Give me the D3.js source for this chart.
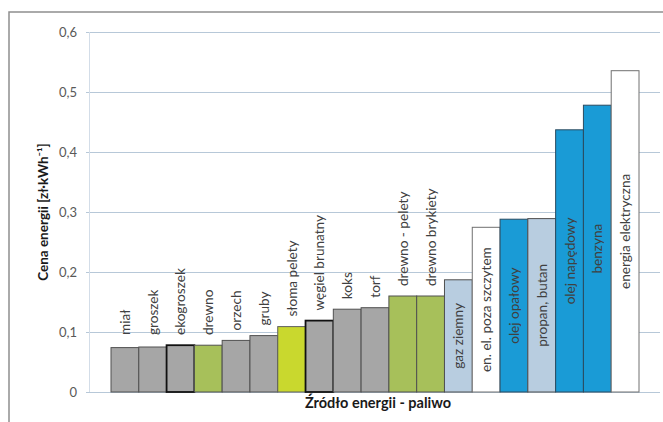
<!DOCTYPE html>
<html>
<head>
<meta charset="utf-8">
<script src="https://d3js.org/d3.v7.min.js"></script>
<style>
  body { margin: 0; background: #fff; }
  svg text { font-family: Lato, "Open Sans", sans-serif; }
</style>
</head>
<body>
<script>
// data
var categories = ["miał", "groszek", "ekogroszek", "drewno", "orzech", "gruby", "słoma pelety",
  "węgiel brunatny", "koks", "torf", "drewno - pelety", "drewno brykiety", "gaz ziemny",
  "en. el. poza szczytem", "olej opałowy", "propan, butan", "olej napędowy", "benzyna", "energia elektryczna"];
var prices = [0.074, 0.075, 0.078, 0.078, 0.086, 0.094, 0.109, 0.119, 0.138, 0.1405, 0.160, 0.160,
  0.187, 0.2745, 0.288, 0.289, 0.437, 0.478, 0.5355];
var groups = ["wegiel", "wegiel", "wegielB", "drewno", "wegiel", "wegiel", "sloma", "wegielB", "wegiel",
  "wegiel", "drewno", "drewno", "gaz", "prad", "olej", "gaz", "olej", "olej", "prad"];
var yTicks = [0, 0.1, 0.2, 0.3, 0.4, 0.5, 0.6];
var yTitle = "Cena  energii  [zł·kWh⁻¹]";
var xTitle = "Źródło energii - paliwo";

var fills = { wegiel: "#a6a6a6", wegielB: "#a6a6a6", drewno: "#a7c05a", sloma: "#c9d82e",
  gaz: "#b8cde0", prad: "#ffffff", olej: "#1a9bd6" };
var strokes = { wegiel: "#505050", wegielB: "#111111", drewno: "#505050", sloma: "#606060",
  gaz: "#505050", prad: "#707070", olej: "#2b4b60" };

var W = 663, H = 422;
var svg = d3.select("body").append("svg").attr("width", W).attr("height", H);

// outer frame
svg.append("rect").attr("x", 9).attr("y", 12).attr("width", 700).attr("height", 500)
  .attr("fill", "#fff").attr("stroke", "#8e8e8e").attr("stroke-width", 1.5);

var x = d3.scaleBand().domain(categories).range([111, 639]).padding(0);
var y = d3.scaleLinear().domain([0, 0.6]).range([392, 32]);

// gridlines + tick labels
var fmt = function(v) { return v === 0 ? "0" : d3.format(".1f")(v).replace(".", ","); };
svg.append("g").selectAll("line").data(yTicks).enter().append("line")
  .attr("x1", 86).attr("x2", 660)
  .attr("y1", function(d) { return y(d) + 0.5; }).attr("y2", function(d) { return y(d) + 0.5; })
  .attr("stroke", "#b7c8d8").attr("stroke-width", 1);
svg.append("line").attr("x1", 89.5).attr("x2", 89.5).attr("y1", y(0.6)).attr("y2", y(0))
  .attr("stroke", "#d3dde8");
svg.append("g").selectAll("text").data(yTicks).enter().append("text")
  .attr("x", 77).attr("y", function(d) { return y(d) + 4.5; })
  .attr("text-anchor", "end").attr("font-size", 13).attr("fill", "#595959")
  .text(fmt);

// bars
svg.append("g").selectAll("rect").data(prices).enter().append("rect")
  .attr("x", function(d, i) { return x(categories[i]); })
  .attr("y", function(d) { return y(d); })
  .attr("width", x.bandwidth())
  .attr("height", function(d) { return y(0) - y(d); })
  .attr("fill", function(d, i) { return fills[groups[i]]; })
  .attr("stroke", function(d, i) { return strokes[groups[i]]; })
  .attr("stroke-width", function(d, i) { return groups[i] === "wegielB" ? 1.8 : 1; });

// category labels, rotated: above short bars, inside tall ones
svg.append("g").selectAll("text").data(prices).enter().append("text")
  .attr("transform", function(d, i) {
    var cx = x(categories[i]) + x.bandwidth() / 2 + 5;
    var cy = i < 12 ? Math.min(y(0.095), y(d) - 10) : (y(d) + y(0)) / 2;
    return "translate(" + cx + "," + cy + ") rotate(-90)";
  })
  .attr("text-anchor", function(d, i) { return i < 12 ? "start" : "middle"; })
  .attr("font-size", 13.6).attr("fill", "#404040")
  .text(function(d, i) { return categories[i]; });

// axis titles
svg.append("text").attr("transform", "translate(48,212) rotate(-90)")
  .attr("text-anchor", "middle").attr("font-size", 13.5).attr("font-weight", "bold")
  .attr("fill", "#1a1a1a").text(yTitle);
svg.append("text").attr("x", 378).attr("y", 408)
  .attr("text-anchor", "middle").attr("font-size", 14.5).attr("font-weight", "bold")
  .attr("fill", "#1a1a1a").text(xTitle);
</script>
</body>
</html>
